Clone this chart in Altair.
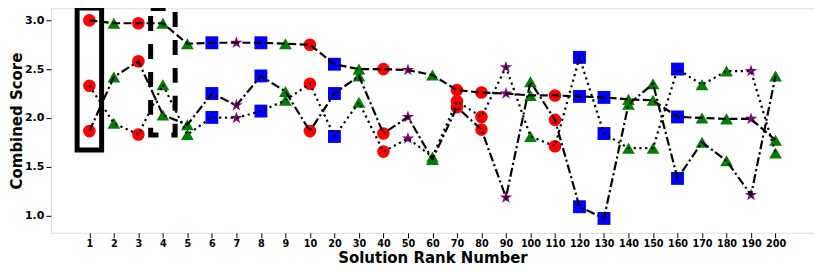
import altair as alt
import pandas as pd

# ---- data ----
ranks = ["1", "2", "3", "4", "5", "6", "7", "8", "9", "10",
         "20", "30", "40", "50", "60", "70", "80", "90", "100", "110",
         "120", "130", "140", "150", "160", "170", "180", "190", "200"]

markers = ["circle", "triangle", "circle", "triangle", "triangle", "square", "star", "square", "triangle", "circle",
           "square", "triangle", "circle", "star", "triangle", "circle", "circle", "star", "triangle", "circle",
           "square", "square", "triangle", "triangle", "square", "triangle", "triangle", "star", "triangle"]

dashed_vals = [3.00, 2.97, 2.97, 2.97, 2.76, 2.77, 2.77, 2.77, 2.76, 2.75,
               2.55, 2.50, 2.50, 2.49, 2.44, 2.285, 2.26, 2.25, 2.23, 2.23,
               2.22, 2.21, 2.19, 2.18, 2.01, 2.00, 1.99, 1.99, 1.77]

dotted_vals = [2.33, 1.945, 1.83, 2.34, 1.83, 2.005, 2.00, 2.07, 2.18, 2.35,
               1.81, 2.16, 1.655, 1.79, 1.60, 2.17, 2.01, 2.52, 1.81, 1.71,
               2.62, 1.84, 1.69, 1.69, 2.50, 2.34, 2.48, 2.48, 1.64]

dashdot_vals = [1.865, 2.42, 2.58, 2.03, 1.93, 2.25, 2.13, 2.43, 2.27, 1.865,
                2.25, 2.43, 1.84, 2.01, 1.575, 2.11, 1.88, 1.185, 2.37, 1.98,
                1.09, 0.97, 2.14, 2.35, 1.38, 1.75, 1.56, 1.21, 2.43]

STAR = ("M0,-1L0.2245,-0.309L0.9511,-0.309L0.3633,0.118L0.5878,0.809L0,0.382"
        "L-0.5878,0.809L-0.3633,0.118L-0.9511,-0.309L-0.2245,-0.309Z")

marker_types = ["circle", "triangle", "square", "star"]
marker_shapes = ["circle", "triangle-up", "square", STAR]
marker_colors = ["#ff0000", "#008000", "#0000ff", "#800080"]
marker_sizes = [160, 170, 150, 200]

y_ticks = [1.0, 1.5, 2.0, 2.5, 3.0]

# annotation boxes: (x from, x to) in rank-position units, (y from, y to) in score
box_x = [-0.5, 2.5]
box_x2 = [0.5, 3.5]
box_y = [1.67, 1.825]
box_y2 = [3.125, 3.12]
box_style = ["solid", "dashed"]

# ---- build tables ----
rows = []
for name, vals in [("dashed", dashed_vals), ("dotted", dotted_vals), ("dashdot", dashdot_vals)]:
    for i, v in enumerate(vals):
        rows.append({"series": name, "pos": i, "score": v, "marker": markers[i]})
df = pd.DataFrame(rows)

boxes = pd.DataFrame({"pos": box_x, "pos2": box_x2, "score": box_y, "score2": box_y2, "style": box_style})

label_expr = "[" + ",".join("'" + r + "'" for r in ranks) + "][datum.value]"

FONT = "DejaVu Sans"

x_scale = alt.Scale(domain=[-1.57, 29.57], nice=False, zero=False)
y_scale = alt.Scale(domain=[0.823, 3.123], nice=False, zero=False)

x_axis = alt.Axis(
    values=list(range(len(ranks))), labelExpr=label_expr, grid=False, domain=False,
    tickSize=5, tickColor="#000000", tickWidth=1,
    labelFont=FONT, labelFontWeight="bold", labelFontSize=9.7, labelColor="#000000",
    labelPadding=1, labelFlush=False, labelOverlap=False,
    title="Solution Rank Number", titleFont=FONT, titleFontSize=15, titleFontWeight="bold",
    titleColor="#000000", titlePadding=2,
)
y_axis = alt.Axis(
    values=y_ticks, format=".1f", grid=False, domain=False,
    tickSize=5, tickColor="#000000", tickWidth=1,
    labelFont=FONT, labelFontWeight="bold", labelFontSize=11, labelColor="#000000",
    labelPadding=2, labelOverlap=False,
    title="Combined Score", titleFont=FONT, titleFontSize=15, titleFontWeight="bold",
    titleColor="#000000", titlePadding=0,
)

def X(field="pos"):
    return alt.X(f"{field}:Q", scale=x_scale, axis=x_axis)

def Y(field="score"):
    return alt.Y(f"{field}:Q", scale=y_scale, axis=y_axis)

points = alt.Chart(df).mark_point(filled=True, opacity=1, strokeWidth=0.5).encode(
    x=X(),
    y=Y(),
    shape=alt.Shape("marker:N", scale=alt.Scale(domain=marker_types, range=marker_shapes), legend=None),
    color=alt.Color("marker:N", scale=alt.Scale(domain=marker_types, range=marker_colors), legend=None),
    size=alt.Size("marker:N", scale=alt.Scale(domain=marker_types, range=marker_sizes), legend=None),
)

dash_styles = {"dashed": [8, 3.5], "dotted": [2.2, 3.6], "dashdot": [9, 3, 2.2, 3]}
lines = []
for name, dash in dash_styles.items():
    lines.append(
        alt.Chart(df).transform_filter(alt.datum.series == name)
        .mark_line(color="#000000", strokeWidth=2.2, strokeDash=dash, strokeCap="butt")
        .encode(x=X(), y=Y())
    )

solid_box = alt.Chart(boxes).transform_filter(alt.datum.style == "solid").mark_rect(
    fillOpacity=0, stroke="#000000", strokeWidth=5
).encode(x=X(), x2="pos2:Q", y=Y(), y2="score2:Q")

dashed_box = alt.Chart(boxes).transform_filter(alt.datum.style == "dashed").mark_rect(
    fillOpacity=0, stroke="#000000", strokeWidth=5, strokeDash=[15, 13], strokeCap="butt"
).encode(x=X(), x2="pos2:Q", y=Y(), y2="score2:Q")

chart = alt.layer(points, *lines, solid_box, dashed_box).properties(
    width=765, height=225,
    autosize=alt.AutoSizeParams(type="none"),
    padding={"left": 43, "top": 0, "right": 0, "bottom": 34},
).configure_view(
    stroke="#333333", strokeWidth=1
).configure_axis(
    labelOverlap=False
).configure(background="white")

chart.save("out.html", embed_options={"renderer": "svg", "actions": False})
